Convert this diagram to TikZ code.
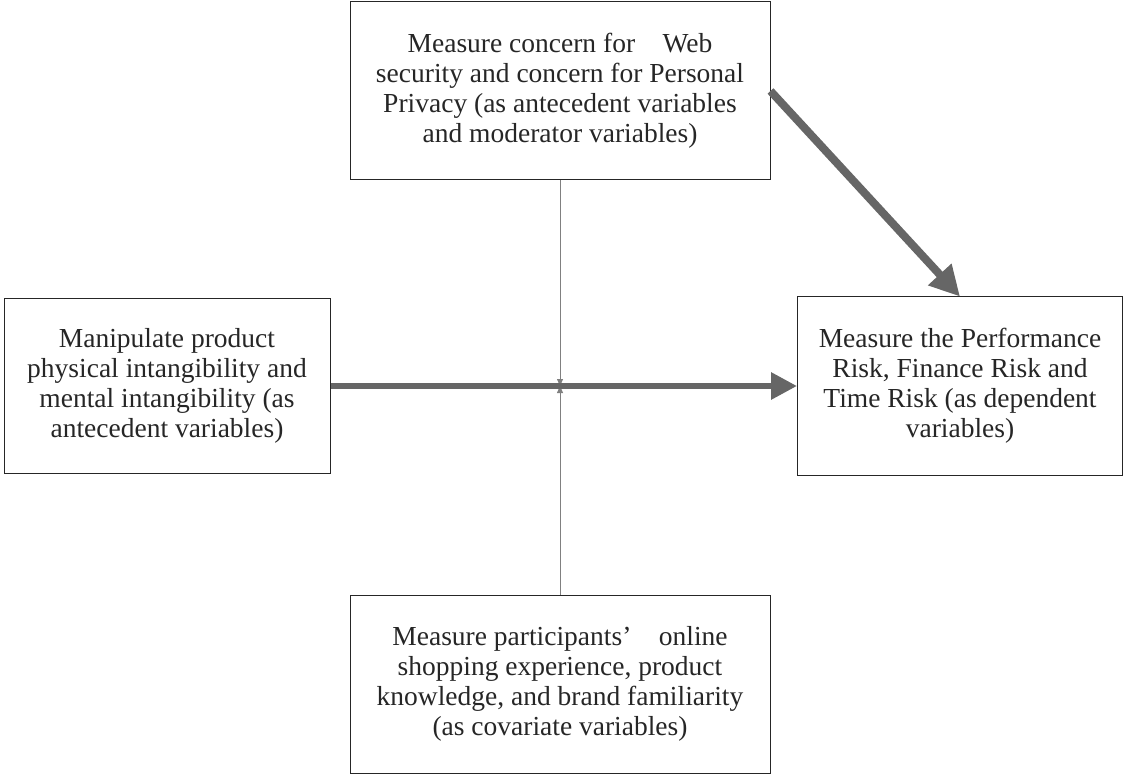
\documentclass[tikz,border=0pt]{standalone}
\usepackage{fontspec}
\setmainfont{Liberation Serif}
\usetikzlibrary{arrows.meta,positioning,calc}
\tikzset{
    box color/.style={black!85},
    box style/.style={draw,box color,line width=1pt,align=center,inner sep=0pt},
    flow color/.style={black!60},
    arr/.style={-{Triangle[length=26pt,width=26pt]},flow color,line width=6pt},
    darr/.style={-{Triangle[length=30pt,width=30pt]},flow color,line width=8pt},
    tarr/.style={-{Triangle[length=7pt,width=6pt]},black!50,line width=0.8pt},
}
\tikzstyle{every node}=[font=\fontsize{27.5}{30}\selectfont]

\begin{document}
\begin{tikzpicture}[x=1pt,y=-1pt]
    \useasboundingbox (0,0) rectangle (1124,775);
    \node[box style,minimum width=420pt,minimum height=178pt] (concern) at (560,91)
        {Measure concern for\quad Web\\security and concern for Personal\\Privacy (as antecedent variables\\and moderator variables)};
    \node[box style,minimum width=326pt,minimum height=174pt] (manip) at (167,386)
        {Manipulate product\\physical intangibility and\\mental intangibility (as\\antecedent variables)};
    \node[box style,minimum width=325pt,minimum height=178pt] (risk) at (960,386)
        {Measure the Performance\\Risk, Finance Risk and\\Time Risk (as dependent\\variables)};
    \node[box style,minimum width=420pt,minimum height=178pt] (covar) at (560,684)
        {Measure participants’\quad online\\shopping experience, product\\knowledge, and brand familiarity\\(as covariate variables)};

    \coordinate (mid) at (concern.south |- manip.east);
    \draw[tarr] (concern.south) -- (mid);
    \draw[tarr] (covar.north) -- (mid);
    \draw[arr] (manip.east) -- (risk.west);
    \draw[darr] (concern.east) -- (risk.north);
\end{tikzpicture}
\end{document}
